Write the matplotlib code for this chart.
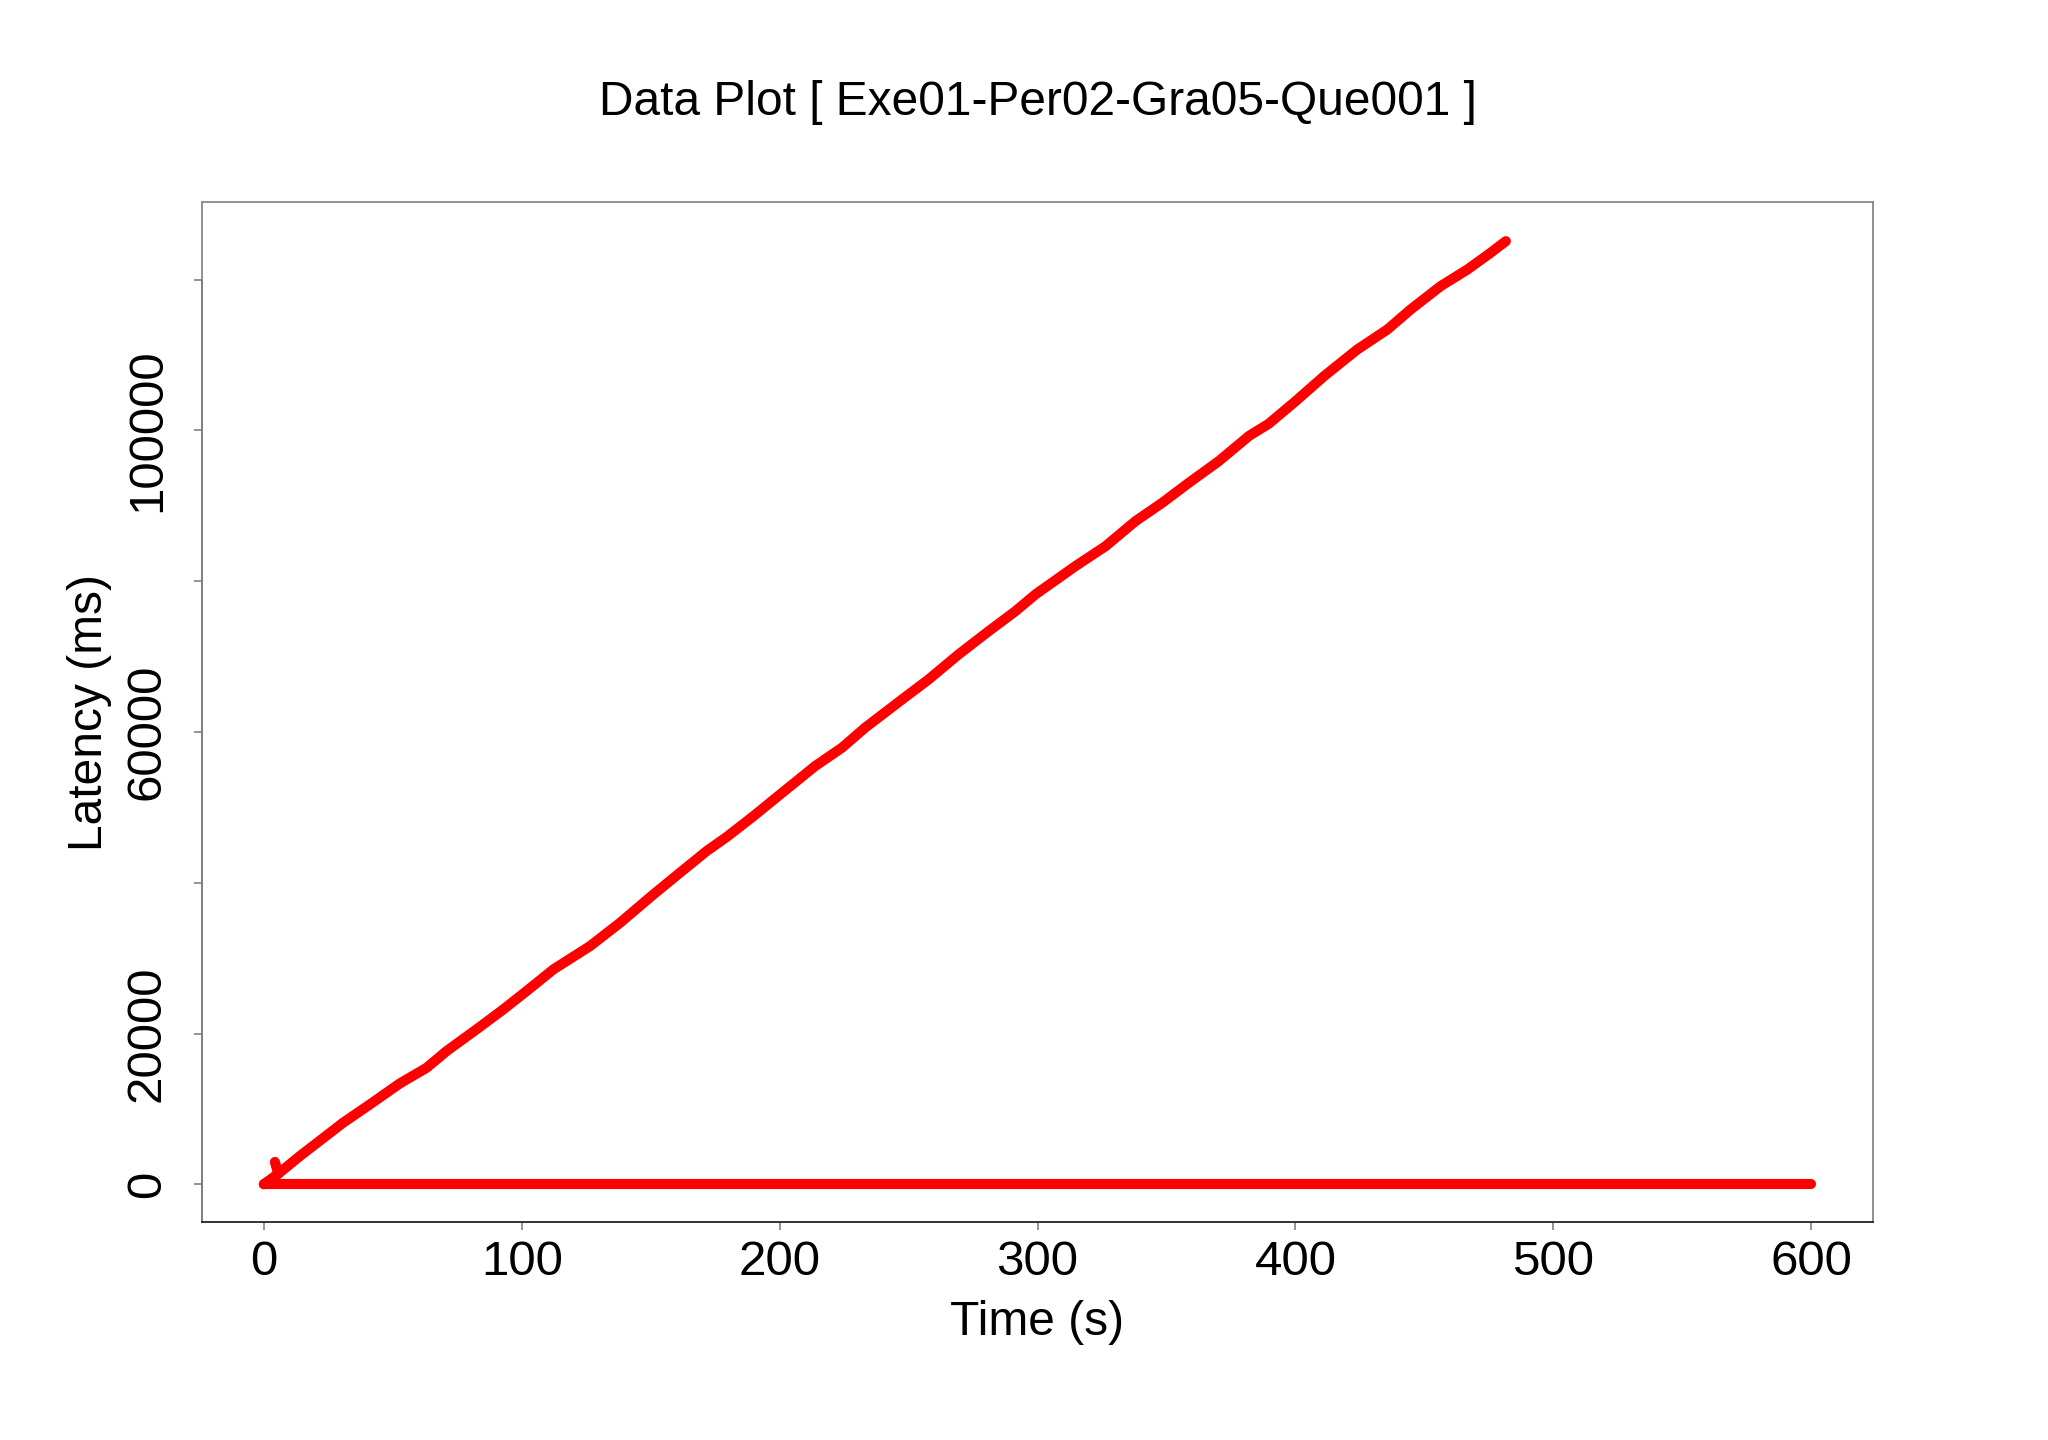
import matplotlib
matplotlib.use("Agg")
import matplotlib.pyplot as plt

# ---- data ----
t_rise = [0.0, 5.6, 14.0, 30.8, 41.1, 52.8, 63.1, 70.9, 82.5, 92.9, 101.9,
          112.3, 126.5, 138.2, 151.1, 161.4, 171.8, 179.5, 189.9, 200.2,
          213.8, 224.2, 233.2, 247.5, 257.8, 269.4, 281.1, 291.5, 299.2,
          314.7, 326.4, 338.0, 348.4, 358.7, 370.3, 382.0, 389.7, 400.1,
          411.1, 424.0, 435.7, 444.7, 456.3, 466.7, 475.7, 481.6]
v_rise = [0, 1400, 3750, 8180, 10590, 13390, 15450, 17680, 20560, 23210, 25640,
          28510, 31600, 34710, 38460, 41340, 44230, 46080, 48850, 51720,
          55480, 57920, 60580, 64320, 66980, 70290, 73380, 76040, 78250,
          82000, 84650, 87970, 90410, 93060, 95930, 99270, 100900, 103890,
          107200, 110740, 113400, 116050, 119140, 121350, 123570, 125110]
t_blip = [4.3, 5.6]
v_blip = [2960, 1400]
t_zero = [0, 600]
v_zero = [0, 0]

x_ticks = [0, 100, 200, 300, 400, 500, 600]
y_ticks = [0, 20000, 40000, 60000, 80000, 100000, 120000]
y_labels = ["0", "20000", "", "60000", "", "100000", ""]

plt.rcParams['font.family'] = ['Liberation Sans', 'DejaVu Sans']

fig = plt.figure(figsize=(20.48, 14.4), dpi=100)
ax = fig.add_axes([0.0986, 0.1514, 0.816, 0.7083])

red = '#ff0000'
lw = 7.3
for tx, vy in [(t_zero, v_zero), (t_rise, v_rise), (t_blip, v_blip)]:
    ax.plot(tx, vy, color=red, lw=lw, solid_capstyle='round',
            solid_joinstyle='round')

ax.set_xlim(-24, 624)
ax.set_ylim(-5000, 130300)

ax.set_xticks(x_ticks)
ax.set_xticklabels([str(v) for v in x_ticks])
ax.set_yticks(y_ticks)
ax.set_yticklabels(y_labels, rotation=90, va='center')
ax.tick_params(axis='both', length=6, width=1.1, color='#777777',
               labelsize=35.5)
ax.tick_params(axis='x', pad=7)
ax.tick_params(axis='y', pad=17)

for side in ['top', 'right', 'left']:
    ax.spines[side].set_color('#888888')
    ax.spines[side].set_linewidth(1.3)
ax.spines['bottom'].set_color('#222222')
ax.spines['bottom'].set_linewidth(1.3)
# darker axis line along the labelled range
ax.plot([0, 0], [-5000, 120000], transform=ax.get_yaxis_transform(),
        color='#333333', lw=1.3, clip_on=False)

ax.set_xlabel("Time (s)", fontsize=34.5, va='center')
ax.xaxis.set_label_coords(0.5, -0.099)
ax.set_ylabel("Latency (ms)", fontsize=34.5, va='center')
ax.yaxis.set_label_coords(-0.067, 0.5)

fig.text(0.507, 0.929, "Data Plot [ Exe01-Per02-Gra05-Que001 ]",
         ha='center', va='center', fontsize=34.5)

fig.savefig("out.png", dpi=100, facecolor='white')
